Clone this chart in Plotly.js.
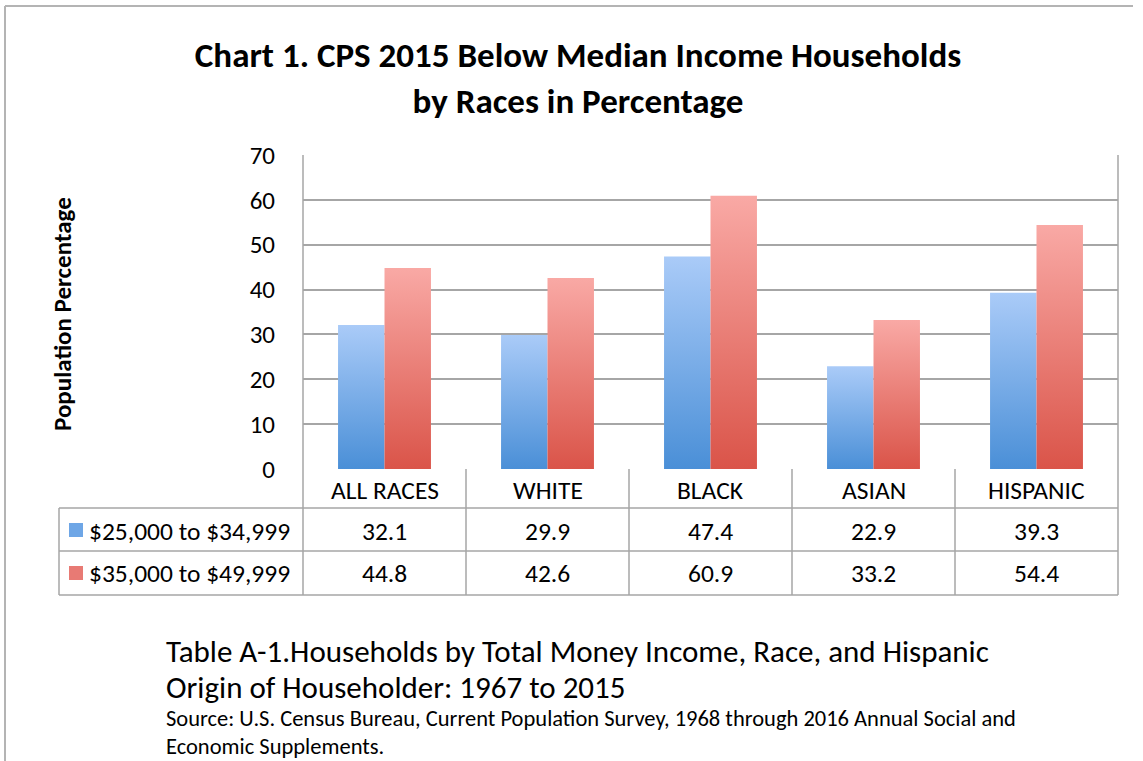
<!DOCTYPE html>
<html>
<head>
<meta charset="utf-8">
<script src="https://cdn.plot.ly/plotly-3.0.1.min.js"></script>
<style>html,body{margin:0;padding:0;background:#fff;}#chart{width:1143px;height:761px;}</style>
</head>
<body>
<div id="chart"></div>
<script>
const categories = ["ALL RACES", "WHITE", "BLACK", "ASIAN", "HISPANIC"];
const seriesNames = ["$25,000 to $34,999", "$35,000 to $49,999"];
const lowBand = [32.1, 29.9, 47.4, 22.9, 39.3];
const highBand = [44.8, 42.6, 60.9, 33.2, 54.4];
const yTicks = [0, 10, 20, 30, 40, 50, 60, 70];

const FONT = "Carlito, Calibri, Lato, 'Open Sans', sans-serif";
const W = 1143, H = 761;
const M = {l: 303, r: 25, t: 155, b: 292};
const PW = W - M.l - M.r, PH = H - M.t - M.b;
// pixel -> paper helpers (for table/frame layout only)
const px = x => (x - M.l) / PW;
const py = y => (H - M.b - y) / PH;

const gridColor = "#a6a6a6";
const line = {color: gridColor, width: 1.5};

const shapes = [];
const annotations = [];

// table horizontal lines
[508, 551, 595].forEach(y => shapes.push({type: "line", xref: "paper", yref: "paper", x0: px(59), x1: 1, y0: py(y), y1: py(y), line}));
// left border of table rows
shapes.push({type: "line", xref: "paper", yref: "paper", x0: px(59), x1: px(59), y0: py(508), y1: py(595), line});
// plot/table outer verticals
shapes.push({type: "line", xref: "paper", yref: "paper", x0: 0, x1: 0, y0: 1, y1: py(595), line});
shapes.push({type: "line", xref: "paper", yref: "paper", x0: 1, x1: 1, y0: 1, y1: py(595), line});
// category dividers
for (let i = 1; i < categories.length; i++) {
  shapes.push({type: "line", xref: "x", yref: "paper", x0: i - 0.5, x1: i - 0.5, y0: 0, y1: py(595), line});
}
// outer frame
shapes.push({type: "line", xref: "paper", yref: "paper", x0: px(5), x1: px(1133), y0: py(6), y1: py(6), line: {color: "#b4b4b4", width: 2}});
shapes.push({type: "line", xref: "paper", yref: "paper", x0: px(5), x1: px(5), y0: py(6), y1: py(761), line: {color: "#b4b4b4", width: 2}});
// legend keys
shapes.push({type: "rect", xref: "paper", yref: "paper", x0: px(69), x1: px(83), y0: py(523), y1: py(537), fillcolor: "#6ea6e6", line: {width: 0}});
shapes.push({type: "rect", xref: "paper", yref: "paper", x0: px(69), x1: px(83), y0: py(566), y1: py(580), fillcolor: "#e87a74", line: {width: 0}});

const tableFont = {family: FONT, size: 25.5, color: "#000"};
categories.forEach((c, i) => {
  annotations.push({x: c, xref: "x", y: py(490), yref: "paper", text: c, showarrow: false, font: tableFont, xanchor: "center", yanchor: "middle"});
  annotations.push({x: c, xref: "x", y: py(531), yref: "paper", text: lowBand[i].toFixed(1), showarrow: false, font: tableFont, xanchor: "center", yanchor: "middle"});
  annotations.push({x: c, xref: "x", y: py(573), yref: "paper", text: highBand[i].toFixed(1), showarrow: false, font: tableFont, xanchor: "center", yanchor: "middle"});
});
annotations.push({x: px(87), xref: "paper", y: py(531), yref: "paper", text: seriesNames[0], showarrow: false, font: tableFont, xanchor: "left", yanchor: "middle"});
annotations.push({x: px(87), xref: "paper", y: py(573), yref: "paper", text: seriesNames[1], showarrow: false, font: tableFont, xanchor: "left", yanchor: "middle"});

// y axis title
annotations.push({x: px(62), xref: "paper", y: py(314), yref: "paper", text: "<b>Population Percentage</b>", textangle: -90, showarrow: false, font: {family: FONT, size: 25, color: "#000"}, xanchor: "center", yanchor: "middle"});

// footer
const footBig = {family: FONT, size: 31, color: "#000"};
const footSmall = {family: FONT, size: 22.5, color: "#000"};
annotations.push({x: px(164), xref: "paper", y: py(651), yref: "paper", text: "Table A-1.Households by Total Money Income, Race, and Hispanic", showarrow: false, font: footBig, xanchor: "left", yanchor: "middle"});
annotations.push({x: px(164), xref: "paper", y: py(687), yref: "paper", text: "Origin of Householder: 1967 to 2015", showarrow: false, font: footBig, xanchor: "left", yanchor: "middle"});
annotations.push({x: px(164), xref: "paper", y: py(718), yref: "paper", text: "Source: U.S. Census Bureau, Current Population Survey, 1968 through 2016 Annual Social and", showarrow: false, font: footSmall, xanchor: "left", yanchor: "middle"});
annotations.push({x: px(164), xref: "paper", y: py(746), yref: "paper", text: "Economic Supplements.", showarrow: false, font: footSmall, xanchor: "left", yanchor: "middle"});

const traces = [
  {type: "bar", name: seriesNames[0], x: categories, y: lowBand, marker: {color: "#6ea6e6", line: {width: 0}}, hoverinfo: "x+y"},
  {type: "bar", name: seriesNames[1], x: categories, y: highBand, marker: {color: "#e87a74", line: {width: 0}}, hoverinfo: "x+y"}
];

const layout = {
  width: W, height: H,
  margin: M,
  paper_bgcolor: "#fff", plot_bgcolor: "#fff",
  showlegend: false,
  barmode: "group", bargap: 0.43, bargroupgap: 0,
  font: {family: FONT, color: "#000"},
  title: {
    text: "<b>Chart 1. CPS 2015 Below Median Income Households<br>by Races in Percentage</b>",
    font: {family: FONT, size: 35, color: "#000"},
    x: 578 / W, xref: "container", xanchor: "center",
    y: 1 - 67 / H, yref: "container", yanchor: "top"
  },
  xaxis: {type: "category", range: [-0.5, categories.length - 0.5], showticklabels: false, showgrid: false, zeroline: false, showline: false, ticks: "", fixedrange: true},
  yaxis: {range: [0, 70], tickvals: yTicks, showgrid: true, gridcolor: gridColor, gridwidth: 1.5, zeroline: false, showline: false,
    ticks: "outside", ticklen: 0, ticklabelstandoff: 22, tickfont: {family: FONT, size: 25, color: "#000"}, fixedrange: true},
  shapes, annotations
};

function addGradients() {
  const svg = document.querySelector("#chart svg.main-svg");
  const ns = "http://www.w3.org/2000/svg";
  let defs = svg.querySelector("defs");
  if (!defs) { defs = document.createElementNS(ns, "defs"); svg.insertBefore(defs, svg.firstChild); }
  const mk = (id, top, bot) => {
    const g = document.createElementNS(ns, "linearGradient");
    g.setAttribute("id", id); g.setAttribute("x1", "0"); g.setAttribute("y1", "0"); g.setAttribute("x2", "0"); g.setAttribute("y2", "1");
    [[0, top], [1, bot]].forEach(([o, c]) => {
      const s = document.createElementNS(ns, "stop"); s.setAttribute("offset", o); s.setAttribute("stop-color", c); g.appendChild(s);
    });
    defs.appendChild(g);
  };
  mk("gradBlue", "#aacbf8", "#4a8fd7");
  mk("gradRed", "#f9a9a5", "#da5449");
  const tr = document.querySelectorAll("#chart .barlayer .trace");
  tr.forEach((t, i) => {
    t.querySelectorAll("path").forEach(p => { p.style.fill = i === 0 ? "url(#gradBlue)" : "url(#gradRed)"; });
  });
}

Plotly.newPlot("chart", traces, layout, {displayModeBar: false}).then(addGradients);
</script>
</body>
</html>
